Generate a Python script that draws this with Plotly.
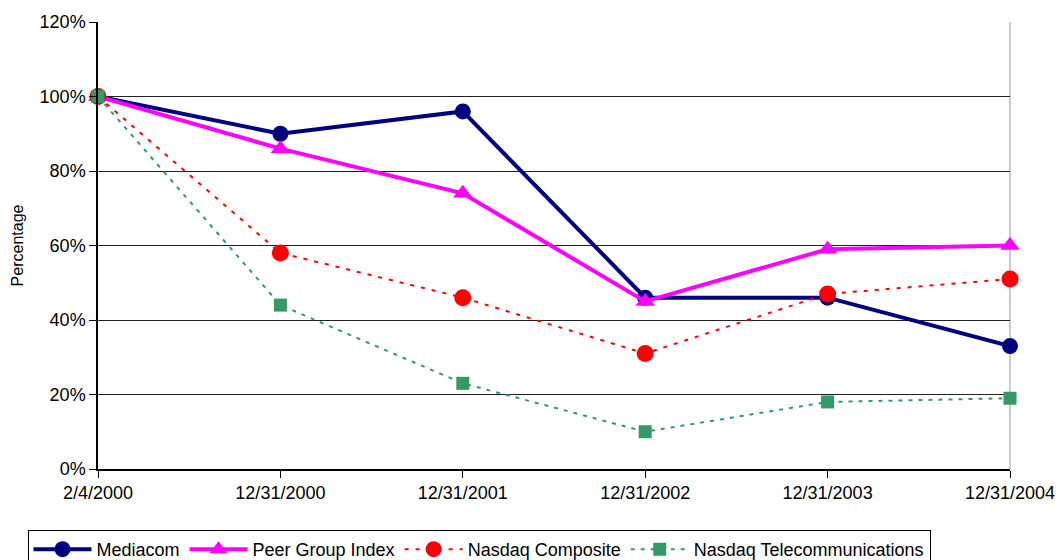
import plotly.graph_objects as go

dates = ["2/4/2000", "12/31/2000", "12/31/2001", "12/31/2002", "12/31/2003", "12/31/2004"]
mediacom = [100, 90, 96, 46, 46, 33]
peer_group = [100, 86, 74, 45, 59, 60]
nasdaq_composite = [100, 58, 46, 31, 47, 51]
nasdaq_telecom = [100, 44, 23, 10, 18, 19]

xpos = list(range(len(dates)))
FONT = "Liberation Sans, Arial, sans-serif"

fig = go.Figure()
fig.add_trace(go.Scatter(
    x=xpos, y=mediacom, name="Mediacom", mode="lines+markers",
    line=dict(color="#000080", width=4), cliponaxis=False,
    marker=dict(symbol="circle", size=16, color="#000080")))
fig.add_trace(go.Scatter(
    x=xpos, y=peer_group, name="Peer Group Index", mode="lines+markers",
    line=dict(color="#FF00FF", width=4), cliponaxis=False,
    marker=dict(symbol="triangle-up", size=17, color="#FF00FF")))
fig.add_trace(go.Scatter(
    x=xpos, y=nasdaq_composite, name="Nasdaq Composite", mode="lines+markers",
    line=dict(color="#FF0000", width=2, dash="4px,7px"), cliponaxis=False,
    marker=dict(symbol="circle", size=17, color="#FF0000")))
fig.add_trace(go.Scatter(
    x=xpos, y=nasdaq_telecom, name="Nasdaq Telecommunications", mode="lines+markers",
    line=dict(color="#339966", width=2, dash="4px,6px"), cliponaxis=False,
    marker=dict(symbol="square", size=13, color="#339966")))

fig.update_layout(
    width=1058, height=560,
    margin=dict(l=98, r=48, t=22, b=91),
    paper_bgcolor="white", plot_bgcolor="white",
    font=dict(family=FONT, size=18, color="black"),
    xaxis=dict(
        range=[0, 5], tickmode="array", tickvals=xpos, ticktext=dates,
        showgrid=False, zeroline=False, showline=True, linecolor="black", linewidth=1.5,
        ticks="outside", ticklen=7, tickcolor="black", tickfont=dict(size=18),
        mirror=False, automargin=False,
    ),
    yaxis=dict(
        range=[0, 120], tickmode="array", tickvals=[0, 20, 40, 60, 80, 100, 120],
        ticktext=["0%", "20%", "40%", "60%", "80%", "100%", "120%"],
        showgrid=True, gridcolor="#222222", gridwidth=1,
        zeroline=False, showline=True, linecolor="black", linewidth=1.5,
        ticks="outside", ticklen=7, tickcolor="black", tickfont=dict(size=18),
        title=dict(text="Percentage", font=dict(size=16), standoff=12),
        automargin=False,
    ),
    legend=dict(
        orientation="h", xref="container", x=0.026, xanchor="left",
        yref="container", y=1 - 530 / 560, yanchor="top",
        bordercolor="black", borderwidth=1, bgcolor="white",
        font=dict(size=18), traceorder="normal", itemwidth=58,
    ),
    showlegend=True,
)
# right border of plot area in grey
fig.add_shape(type="line", xref="paper", yref="paper", x0=1, x1=1, y0=0, y1=1,
              line=dict(color="#999999", width=1), layer="below")

fig.write_html("out.html")
